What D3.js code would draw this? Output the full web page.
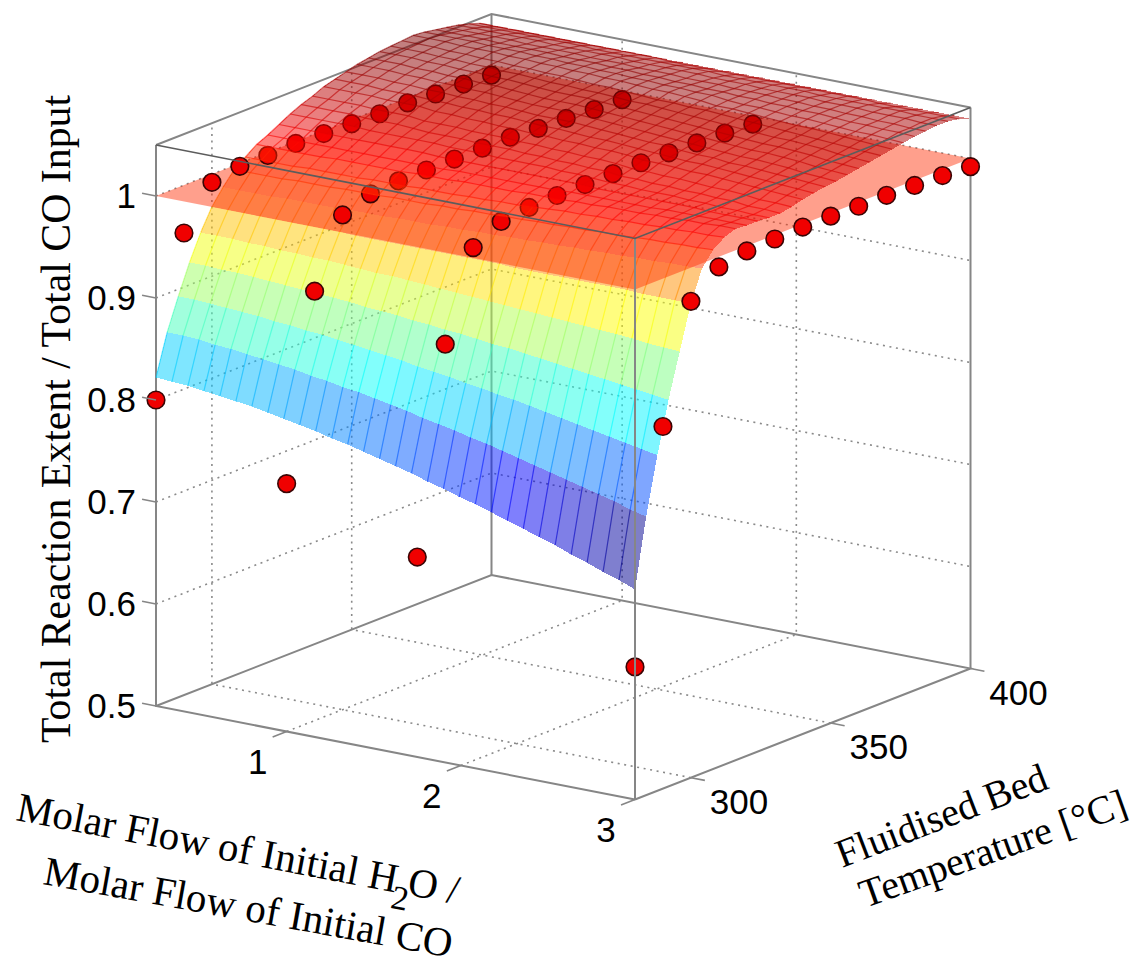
<!DOCTYPE html>
<html>
<head>
<meta charset="utf-8">
<title>Total reaction extent surface</title>
<script src="https://cdnjs.cloudflare.com/ajax/libs/d3/7.8.5/d3.min.js"></script>
<style>
  body { margin: 0; background: #fff; }
  svg { display: block; }
</style>
</head>
<body>
<script>
/* Data */
const flowTicks = [1, 2, 3];
const tempTicks = [300, 350, 400];
const extentTicks = [0.5, 0.6, 0.7, 0.8, 0.9, 1];

// measured points, one row per flow ratio, one value per dotTemps entry
const dotTemps = [280, 290, 300, 310, 320, 330, 340, 350, 360, 370, 380, 390, 400];
const dotFlows = [0.25, 1, 1.75, 3];
const dotsFlow025 = [0.800, 0.953, 0.992, 0.997, 0.997, 0.998, 0.997, 0.996, 0.995, 0.995, 0.993, 0.992, 0.990];
const dotsFlow100 = [0.743, 0.921, 0.985, 0.995, 0.997, 0.997, 0.997, 0.997, 0.997, 0.995, 0.994, 0.992, 0.991];
const dotsFlow175 = [0.696, 0.894, 0.978, 0.993, 0.996, 0.997, 0.997, 0.997, 0.997, 0.996, 0.995, 0.994, 0.992];
const dotsFlow300 = [0.630, 0.855, 0.967, 0.990, 0.995, 0.996, 0.997, 0.997, 0.996, 0.996, 0.995, 0.994, 0.992];

// fitted surface in thousandths, rows go 280..400 in steps of 4, columns 0.25..3 in 31 steps
const surfaceTemps = d3.range(280, 401, 4);
const surfaceFlows = d3.range(31).map(i => 0.25 + i * 2.75 / 30);
const surfaceZ = [
  [822,821,820,818,816,814,812,809,806,803,800,796,793,789,785,781,777,772,768,763,759,754,749,744,739,734,728,723,717,712,706],
  [862,862,861,859,858,856,854,852,850,847,845,842,840,837,834,831,827,824,821,817,814,810,806,802,798,794,790,786,782,777,773],
  [893,893,892,891,890,889,887,886,884,883,881,879,877,875,873,870,868,866,863,861,858,856,853,850,847,844,841,838,835,832,829],
  [922,922,921,921,920,919,918,917,916,915,914,912,911,910,908,907,905,904,902,900,899,897,895,893,891,889,887,885,883,881,879],
  [947,947,947,946,946,945,945,944,944,943,942,941,941,940,939,938,937,936,935,934,933,932,931,930,929,928,927,926,924,923,922],
  [968,968,968,968,968,968,968,968,968,967,967,967,967,967,967,967,967,967,967,966,966,966,966,966,966,966,966,965,965,965,965],
  [983,983,983,983,984,984,984,984,985,985,985,986,986,986,987,987,988,988,989,989,990,990,991,991,992,992,993,993,994,994,995],
  [996,996,996,996,997,997,997,998,998,998,999,999,999,1000,1000,1001,1001,1002,1002,1003,1003,1004,1004,1005,1005,1006,1007,1007,1008,1008,1009],
  [1004,1004,1004,1004,1005,1005,1005,1005,1006,1006,1006,1007,1007,1007,1008,1008,1009,1009,1010,1011,1012,1012,1013,1013,1014,1014,1015,1015,1016,1016,1017],
  [1012,1012,1012,1012,1012,1013,1013,1013,1013,1013,1014,1014,1014,1015,1015,1015,1015,1016,1016,1016,1017,1017,1018,1018,1018,1019,1019,1020,1020,1021,1021],
  [1017,1017,1017,1017,1017,1017,1017,1017,1017,1017,1017,1017,1018,1018,1018,1018,1018,1018,1018,1019,1019,1019,1019,1019,1019,1020,1020,1020,1020,1020,1020],
  [1023,1023,1023,1023,1023,1023,1023,1023,1023,1023,1022,1022,1022,1022,1022,1022,1022,1022,1022,1022,1021,1021,1021,1021,1021,1021,1021,1020,1020,1020,1020],
  [1029,1029,1029,1029,1029,1028,1028,1028,1028,1028,1027,1027,1027,1026,1026,1026,1026,1025,1025,1024,1023,1023,1022,1022,1022,1021,1021,1020,1020,1019,1019],
  [1034,1034,1034,1034,1033,1033,1033,1032,1031,1031,1031,1030,1030,1030,1029,1029,1028,1028,1027,1027,1025,1025,1024,1024,1023,1023,1022,1022,1020,1020,1019],
  [1038,1038,1038,1038,1037,1037,1037,1035,1035,1035,1034,1034,1034,1033,1033,1032,1032,1031,1031,1030,1028,1028,1027,1027,1026,1025,1025,1024,1022,1022,1021],
  [1043,1043,1043,1043,1042,1042,1042,1040,1040,1039,1039,1038,1038,1037,1037,1036,1036,1035,1035,1034,1032,1032,1031,1030,1030,1029,1028,1027,1026,1025,1024],
  [1046,1046,1046,1045,1045,1045,1044,1044,1043,1043,1042,1042,1041,1040,1040,1039,1038,1038,1037,1036,1035,1034,1033,1033,1032,1031,1030,1029,1028,1027,1026],
  [1049,1049,1049,1048,1048,1047,1047,1046,1046,1045,1045,1044,1043,1043,1043,1042,1041,1040,1039,1038,1038,1036,1035,1035,1033,1033,1032,1031,1030,1029,1028],
  [1052,1052,1052,1051,1051,1050,1050,1049,1049,1048,1047,1046,1046,1046,1045,1044,1043,1042,1041,1040,1039,1038,1037,1036,1035,1035,1034,1033,1031,1030,1029],
  [1054,1054,1054,1053,1053,1052,1052,1051,1051,1050,1049,1048,1048,1048,1047,1046,1045,1044,1043,1042,1041,1040,1039,1038,1037,1037,1036,1035,1033,1032,1031],
  [1056,1056,1056,1055,1055,1054,1054,1053,1053,1052,1051,1050,1050,1050,1049,1048,1047,1046,1045,1044,1043,1042,1041,1040,1039,1039,1038,1037,1035,1034,1033],
  [1057,1057,1057,1056,1056,1055,1055,1054,1054,1053,1052,1052,1051,1051,1050,1049,1049,1048,1047,1046,1045,1044,1043,1042,1041,1041,1040,1039,1037,1036,1035],
  [1058,1058,1058,1057,1057,1056,1056,1055,1055,1054,1054,1053,1052,1052,1051,1050,1049,1049,1048,1048,1047,1046,1045,1044,1043,1042,1041,1040,1039,1038,1037],
  [1059,1059,1059,1058,1058,1058,1057,1057,1056,1056,1055,1055,1054,1054,1053,1052,1052,1051,1050,1048,1048,1047,1046,1045,1044,1044,1043,1042,1041,1040,1039],
  [1058,1058,1058,1058,1057,1057,1057,1056,1056,1055,1055,1054,1054,1053,1053,1052,1052,1051,1051,1049,1048,1048,1047,1046,1046,1045,1044,1043,1043,1042,1041],
  [1056,1056,1056,1056,1055,1055,1055,1055,1054,1054,1054,1053,1053,1052,1052,1051,1051,1050,1050,1049,1049,1048,1048,1047,1047,1046,1045,1045,1044,1044,1043],
  [1054,1054,1054,1054,1054,1053,1053,1053,1053,1052,1052,1052,1051,1051,1051,1050,1050,1050,1049,1049,1049,1048,1048,1047,1047,1046,1046,1045,1045,1044,1044],
  [1052,1052,1052,1052,1052,1052,1051,1051,1051,1051,1051,1050,1050,1050,1050,1050,1049,1049,1049,1048,1048,1048,1048,1047,1047,1047,1046,1046,1046,1045,1045],
  [1049,1049,1049,1049,1049,1049,1049,1049,1048,1048,1048,1048,1048,1048,1048,1048,1047,1047,1047,1047,1047,1047,1046,1046,1046,1046,1046,1046,1045,1045,1045],
  [1045,1045,1045,1045,1045,1045,1045,1045,1045,1045,1045,1045,1044,1044,1044,1044,1044,1044,1044,1044,1044,1044,1044,1044,1044,1043,1043,1043,1043,1043,1043],
  [1039,1039,1039,1039,1039,1039,1039,1039,1039,1039,1039,1039,1039,1039,1039,1039,1039,1039,1039,1039,1039,1039,1039,1039,1039,1039,1039,1039,1039,1039,1039]
];

/* Constants */
const w = 1135;
const h = 969;
const sheetZ = 1;
const cellAlpha = 0.5;
const sans = "'Liberation Sans', Arial, sans-serif";
const serif = "'Liberation Serif', 'Times New Roman', serif";

/* Scales */
const xScale = d3.scaleLinear().domain([0.25, 3]).range([0, 1]);
const tScale = d3.scaleLinear().domain([280, 400]).range([0, 1]);
const zScale = d3.scaleLinear().domain([0.5, 1.05]).range([0, 1]);

// jet colour map, read across the range of the surface
const jet = d3.scaleLinear()
  .domain([0, 0.125, 0.375, 0.625, 0.875, 1])
  .range(["#00007f", "#0000ff", "#00ffff", "#ffff00", "#ff0000", "#7f0000"]);
const colorScale = d3.scaleLinear().domain([0.706, 1.059]).range([0, 1]);
const zColor = z => jet(colorScale(z));

/* Box projection, the box is drawn as a parallelepiped */
const project = (x, t, z) => {
  const u = xScale(x), v = tScale(t), k = zScale(z);
  return [156 + 479 * u + 335.5 * v, 706 + 93.5 * u - 131 * v - 561 * k];
};
const line = d3.line();

const svg = d3.select("body").append("svg")
  .attr("width", w)
  .attr("height", h)
  .style("font-family", sans);

const xMin = 0.25, xMax = 3, tMin = 280, tMax = 400, zMin = 0.5, zMax = 1.05;

const addLine = (g, pts, color, width, dash) => {
  g.append("path")
    .attr("d", line(pts))
    .attr("fill", "none")
    .attr("stroke", color)
    .attr("stroke-width", width)
    .attr("stroke-dasharray", dash || null);
};

/* Grid on the walls and floor */
const gridG = svg.append("g");
const dots = "2 4.6";
const gridColor = "#8a8a8a";

extentTicks.filter(z => z > zMin).forEach(z => {
  addLine(gridG, [project(xMin, tMin, z), project(xMin, tMax, z), project(xMax, tMax, z)], gridColor, 1.6, dots);
});
flowTicks.filter(x => x < xMax).forEach(x => {
  addLine(gridG, [project(x, tMin, zMin), project(x, tMax, zMin), project(x, tMax, zMax)], gridColor, 1.6, dots);
});
tempTicks.filter(t => t < tMax).forEach(t => {
  addLine(gridG, [project(xMax, t, zMin), project(xMin, t, zMin), project(xMin, t, zMax)], gridColor, 1.6, dots);
});

/* Back edges of the box */
const boxColor = "#868686";
const backG = svg.append("g");
addLine(backG, [project(xMin, tMin, zMax), project(xMin, tMin, zMin), project(xMax, tMin, zMin)], boxColor, 2);
addLine(backG, [project(xMin, tMin, zMin), project(xMin, tMax, zMin), project(xMax, tMax, zMin), project(xMax, tMin, zMin)], boxColor, 2);
addLine(backG, [project(xMin, tMax, zMin), project(xMin, tMax, zMax)], boxColor, 2);
addLine(backG, [project(xMax, tMax, zMin), project(xMax, tMax, zMax)], boxColor, 2);
addLine(backG, [project(xMin, tMin, zMax), project(xMin, tMax, zMax), project(xMax, tMax, zMax)], boxColor, 2);

/* Surface cells, far ones first */
const cells = [];
for (let j = surfaceTemps.length - 2; j >= 0; j--) {
  for (let i = 0; i < surfaceFlows.length - 1; i++) {
    const zAt = (a, b) => surfaceZ[b][a] / 1000;
    const mean = (zAt(i, j) + zAt(i + 1, j) + zAt(i, j + 1) + zAt(i + 1, j + 1)) / 4;
    cells.push({
      i: i,
      j: j,
      mean: mean,
      color: zColor(zAt(i, j)),
      a: project(surfaceFlows[i], surfaceTemps[j], zAt(i, j)),
      b: project(surfaceFlows[i + 1], surfaceTemps[j], zAt(i + 1, j)),
      c: project(surfaceFlows[i + 1], surfaceTemps[j + 1], zAt(i + 1, j + 1)),
      d: project(surfaceFlows[i], surfaceTemps[j + 1], zAt(i, j + 1))
    });
  }
}

const drawCells = (g, data) => {
  g.selectAll("path.cell")
    .data(data)
    .enter()
    .append("path")
    .attr("class", "cell")
    .attr("d", d => line([d.a, d.b, d.c, d.d]) + "Z")
    .attr("fill", d => d.color)
    .attr("fill-opacity", cellAlpha)
    .attr("shape-rendering", "crispEdges");

  g.selectAll("path.tempwise")
    .data(data)
    .enter()
    .append("path")
    .attr("class", "tempwise")
    .attr("d", d => line([d.a, d.d]))
    .attr("fill", "none")
    .attr("stroke", d => d.color)
    .attr("stroke-opacity", 0.6)
    .attr("stroke-width", 1.2);

  // flow-wise lines only show once the surface has flattened out
  g.selectAll("path.flowwise")
    .data(data.filter(d => surfaceTemps[d.j] >= 308))
    .enter()
    .append("path")
    .attr("class", "flowwise")
    .attr("d", d => line([d.a, d.b]))
    .attr("fill", "none")
    .attr("stroke", d => d.color)
    .attr("stroke-opacity", 0.6)
    .attr("stroke-width", 1.2);
};

drawCells(svg.append("g"), cells.filter(d => d.mean <= sheetZ));

/* Flat sheet at full conversion */
svg.append("path")
  .attr("d", line([
    project(xMin, tMin, sheetZ),
    project(xMax, tMin, sheetZ),
    project(xMax, tMax, sheetZ),
    project(xMin, tMax, sheetZ)
  ]) + "Z")
  .attr("fill", zColor(sheetZ))
  .attr("fill-opacity", 0.45);

/* Measured points */
const dotRows = [dotsFlow025, dotsFlow100, dotsFlow175, dotsFlow300];
const dotData = [];
dotRows.forEach((row, r) => {
  row.forEach((z, k) => dotData.push(project(dotFlows[r], dotTemps[k], z)));
});

svg.append("g").selectAll("circle")
  .data(dotData)
  .enter()
  .append("circle")
  .attr("cx", d => d[0])
  .attr("cy", d => d[1])
  .attr("r", 8.8)
  .attr("fill", "#f00000")
  .attr("stroke", "#3a0505")
  .attr("stroke-width", 1.6);

drawCells(svg.append("g"), cells.filter(d => d.mean > sheetZ));

/* Front edges of the box */
const frontG = svg.append("g");
addLine(frontG, [project(xMax, tMin, zMin), project(xMax, tMin, zMax)], boxColor, 2);
addLine(frontG, [project(xMin, tMin, zMax), project(xMax, tMin, zMax), project(xMax, tMax, zMax)], "#5c5c5c", 1.6);

/* Ticks */
const tickG = svg.append("g");
extentTicks.forEach(z => {
  addLine(tickG, [project(xMin, tMin, z), project(xMin - 0.08, tMin, z)], boxColor, 1.6);
  tickG.append("text")
    .attr("x", 136)
    .attr("y", project(xMin, tMin, z)[1] + 12)
    .attr("text-anchor", "end")
    .attr("font-size", 35)
    .text(z);
});
flowTicks.forEach(x => {
  const p = project(x, tMin, zMin);
  addLine(tickG, [p, project(x, tMin - 5, zMin)], boxColor, 1.6);
  tickG.append("text")
    .attr("x", p[0] - 29)
    .attr("y", p[1] + 42)
    .attr("text-anchor", "middle")
    .attr("font-size", 35)
    .text(x);
});
tempTicks.forEach(t => {
  const p = project(xMax, t, zMin);
  addLine(tickG, [p, project(xMax + 0.08, t, zMin)], boxColor, 1.6);
  tickG.append("text")
    .attr("x", p[0] + 48)
    .attr("y", p[1] + 36)
    .attr("text-anchor", "middle")
    .attr("font-size", 35)
    .text(t);
});

/* Axis titles */
const title = (x, y, angle, size) => svg.append("text")
  .attr("transform", "translate(" + x + "," + y + ") rotate(" + angle + ")")
  .attr("font-family", serif)
  .attr("font-size", size);

title(70, 743, -90, 41.8).text("Total Reaction Extent / Total CO Input");

const flowTitle = title(15, 820, 10.8, 41);
flowTitle.append("tspan").text("Molar Flow of Initial H");
flowTitle.append("tspan").attr("dy", 16).attr("dx", -3).attr("font-size", 34).text("2");
flowTitle.append("tspan").attr("dy", -16).attr("dx", -3).text("O /");

title(42, 884, 10.2, 41).text("Molar Flow of Initial CO");

title(842, 868, -21, 40).text("Fluidised Bed");
title(865, 908, -19.5, 40).text("Temperature [°C]");
</script>
</body>
</html>
